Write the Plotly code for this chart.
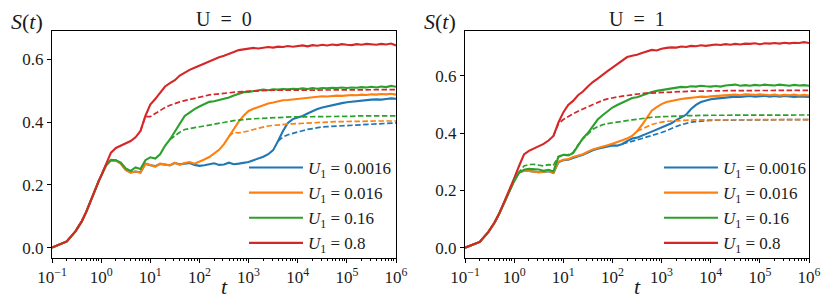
import plotly.graph_objects as go

# ---------------- data ----------------
# time grid: early linear samples, then log10(t) from 0.1 to 6.0
T_EARLY = [0.1, 0.2, 0.3, 0.4, 0.5, 0.6, 0.7, 0.8, 0.9, 1.0]
LOG_T = [0.1, 0.2, 0.3, 0.4, 0.5, 0.6, 0.7, 0.8, 0.9, 1.0,
         1.1, 1.2, 1.3, 1.4, 1.5, 1.6, 1.7, 1.8, 1.9, 2.0,
         2.1, 2.2, 2.3, 2.4, 2.5, 2.6, 2.7, 2.8, 2.9, 3.0,
         3.1, 3.2, 3.3, 3.4, 3.5, 3.6, 3.7, 3.8, 3.9, 4.0,
         4.1, 4.2, 4.3, 4.4, 4.5, 4.6, 4.7, 4.8, 4.9, 5.0,
         5.1, 5.2, 5.3, 5.4, 5.5, 5.6, 5.7, 5.8, 5.9, 6.0]

LABELS = ["0.0016", "0.016", "0.16", "0.8"]
COLORS = ["#1f77b4", "#ff7f0e", "#2ca02c", "#d62728"]
PANEL_TITLES = ["U &nbsp;= &nbsp;0", "U &nbsp;= &nbsp;1"]
X_TICK_EXP = [-1, 0, 1, 2, 3, 4, 5, 6]
Y_TICKS = [0.0, 0.2, 0.4, 0.6]

EARLY_L = [0.000, 0.020, 0.052, 0.083, 0.115, 0.147, 0.174, 0.195, 0.214, 0.229]
EARLY_R = [0.000, 0.020, 0.055, 0.088, 0.120, 0.151, 0.176, 0.197, 0.216, 0.233]
EARLY_R_RED = [0.000, 0.020, 0.055, 0.088, 0.120, 0.151, 0.176, 0.198, 0.219, 0.242]

# ---- U = 0 (left) : solid ----
L_BLUE = [0.263, 0.279, 0.278, 0.268, 0.248, 0.240, 0.243, 0.240, 0.268, 0.263,
          0.260, 0.267, 0.265, 0.263, 0.270, 0.266, 0.268, 0.270, 0.264, 0.261,
          0.263, 0.267, 0.269, 0.264, 0.265, 0.271, 0.266, 0.268, 0.270, 0.273,
          0.279, 0.284, 0.290, 0.298, 0.311, 0.340, 0.372, 0.398, 0.410, 0.415,
          0.420, 0.428, 0.436, 0.442, 0.447, 0.451, 0.454, 0.458, 0.461, 0.464,
          0.466, 0.468, 0.470, 0.471, 0.472, 0.473, 0.472, 0.474, 0.476, 0.475]
L_ORANGE = [0.263, 0.279, 0.278, 0.268, 0.248, 0.239, 0.243, 0.239, 0.268, 0.264,
            0.258, 0.268, 0.264, 0.262, 0.271, 0.264, 0.270, 0.273, 0.268, 0.274,
            0.281, 0.289, 0.300, 0.312, 0.330, 0.355, 0.380, 0.402, 0.421, 0.436,
            0.443, 0.449, 0.455, 0.460, 0.463, 0.467, 0.470, 0.471, 0.473, 0.474,
            0.477, 0.479, 0.480, 0.481, 0.483, 0.482, 0.484, 0.485, 0.484, 0.486,
            0.487, 0.486, 0.488, 0.487, 0.489, 0.488, 0.490, 0.489, 0.491, 0.488]
L_GREEN = [0.263, 0.280, 0.279, 0.271, 0.253, 0.245, 0.256, 0.251, 0.279, 0.288,
           0.284, 0.298, 0.325, 0.345, 0.370, 0.392, 0.420, 0.431, 0.442, 0.450,
           0.458, 0.465, 0.467, 0.471, 0.474, 0.479, 0.485, 0.491, 0.496, 0.497,
           0.500, 0.501, 0.504, 0.502, 0.505, 0.504, 0.506, 0.505, 0.507, 0.506,
           0.508, 0.506, 0.509, 0.507, 0.509, 0.508, 0.510, 0.509, 0.511, 0.509,
           0.511, 0.510, 0.512, 0.511, 0.513, 0.511, 0.514, 0.512, 0.516, 0.513]
L_RED = [0.265, 0.303, 0.318, 0.326, 0.333, 0.340, 0.352, 0.372, 0.420, 0.456,
         0.474, 0.493, 0.514, 0.525, 0.534, 0.549, 0.559, 0.567, 0.574, 0.581,
         0.586, 0.594, 0.601, 0.607, 0.612, 0.619, 0.624, 0.630, 0.632, 0.634,
         0.637, 0.635, 0.638, 0.640, 0.638, 0.641, 0.640, 0.643, 0.641, 0.643,
         0.645, 0.642, 0.646, 0.644, 0.647, 0.645, 0.648, 0.646, 0.649, 0.647,
         0.646, 0.649, 0.647, 0.650, 0.648, 0.647, 0.650, 0.648, 0.651, 0.645]
# ---- U = 0 (left) : dashed ----
N = None
L_BLUE_D = [N, N, N, N, N, N, N, N, N, N,
            N, N, N, N, N, N, N, N, N, N,
            N, N, N, N, N, N, N, N, N, N,
            N, N, N, N, N, 0.340, 0.353, 0.360, 0.365, 0.369,
            0.373, 0.377, 0.380, 0.383, 0.385, 0.386, 0.387, 0.388, 0.389, 0.390,
            0.391, 0.392, 0.393, 0.394, 0.395, 0.396, 0.396, 0.397, 0.397, 0.398]
L_ORANGE_D = [N, N, N, N, N, N, N, N, N, N,
              N, N, N, N, N, N, N, N, N, N,
              N, N, N, N, N, 0.355, 0.368, 0.366, 0.368, 0.372,
              0.377, 0.381, 0.385, 0.388, 0.390, 0.392, 0.393, 0.394, 0.395, 0.396,
              0.397, 0.398, 0.399, 0.400, 0.401, 0.401, 0.402, 0.402, 0.402, 0.403,
              0.403, 0.403, 0.403, 0.404, 0.404, 0.404, 0.404, 0.404, 0.404, 0.404]
L_GREEN_D = [N, N, N, N, N, N, N, N, N, N,
             N, N, N, 0.345, 0.357, 0.368, 0.377, 0.380, 0.382, 0.385,
             0.388, 0.391, 0.395, 0.398, 0.400, 0.403, 0.405, 0.407, 0.409, 0.410,
             0.411, 0.412, 0.413, 0.414, 0.415, 0.415, 0.416, 0.416, 0.417, 0.417,
             0.417, 0.418, 0.418, 0.418, 0.418, 0.419, 0.419, 0.419, 0.419, 0.419,
             0.419, 0.420, 0.420, 0.420, 0.420, 0.420, 0.420, 0.420, 0.420, 0.420]
L_RED_D = [N, N, N, N, N, N, N, 0.372, 0.418, 0.418,
           0.428, 0.438, 0.447, 0.454, 0.460, 0.465, 0.469, 0.473, 0.477, 0.481,
           0.484, 0.487, 0.489, 0.491, 0.493, 0.495, 0.496, 0.497, 0.498, 0.499,
           0.500, 0.500, 0.501, 0.501, 0.502, 0.502, 0.502, 0.503, 0.503, 0.503,
           0.503, 0.503, 0.504, 0.504, 0.504, 0.504, 0.504, 0.504, 0.504, 0.504,
           0.504, 0.504, 0.504, 0.504, 0.504, 0.504, 0.504, 0.504, 0.504, 0.504]

# ---- U = 1 (right) : solid ----
R_BLUE = [0.262, 0.268, 0.268, 0.266, 0.263, 0.264, 0.267, 0.261, 0.298, 0.305,
          0.307, 0.313, 0.318, 0.324, 0.332, 0.340, 0.345, 0.349, 0.352, 0.357,
          0.356, 0.362, 0.372, 0.381, 0.384, 0.390, 0.398, 0.405, 0.412, 0.420,
          0.427, 0.434, 0.445, 0.455, 0.464, 0.484, 0.498, 0.508, 0.514, 0.518,
          0.520, 0.522, 0.524, 0.525, 0.527, 0.526, 0.527, 0.529, 0.527, 0.528,
          0.530, 0.527, 0.529, 0.527, 0.529, 0.528, 0.526, 0.528, 0.527, 0.526]
R_ORANGE = [0.262, 0.268, 0.268, 0.266, 0.263, 0.265, 0.268, 0.261, 0.300, 0.307,
            0.309, 0.316, 0.320, 0.326, 0.335, 0.343, 0.348, 0.352, 0.357, 0.363,
            0.369, 0.374, 0.381, 0.390, 0.406, 0.428, 0.452, 0.478, 0.490, 0.501,
            0.508, 0.512, 0.516, 0.519, 0.521, 0.524, 0.525, 0.527, 0.526, 0.528,
            0.529, 0.531, 0.530, 0.533, 0.534, 0.532, 0.535, 0.534, 0.533, 0.535,
            0.533, 0.532, 0.534, 0.531, 0.533, 0.532, 0.534, 0.531, 0.533, 0.531]
R_GREEN = [0.262, 0.272, 0.275, 0.274, 0.273, 0.268, 0.272, 0.266, 0.316, 0.324,
           0.322, 0.330, 0.358, 0.382, 0.400, 0.425, 0.447, 0.462, 0.476, 0.489,
           0.498, 0.506, 0.512, 0.522, 0.525, 0.531, 0.538, 0.543, 0.547, 0.550,
           0.554, 0.556, 0.559, 0.561, 0.560, 0.563, 0.562, 0.565, 0.563, 0.562,
           0.564, 0.562, 0.566, 0.568, 0.569, 0.565, 0.567, 0.565, 0.568, 0.566,
           0.569, 0.567, 0.566, 0.569, 0.567, 0.565, 0.568, 0.566, 0.567, 0.565]
R_RED = [0.285, 0.325, 0.338, 0.346, 0.354, 0.362, 0.374, 0.390, 0.436, 0.472,
         0.498, 0.512, 0.532, 0.545, 0.562, 0.578, 0.590, 0.604, 0.616, 0.628,
         0.640, 0.655, 0.665, 0.670, 0.673, 0.679, 0.685, 0.690, 0.688, 0.694,
         0.697, 0.699, 0.698, 0.702, 0.700, 0.704, 0.703, 0.706, 0.704, 0.707,
         0.709, 0.707, 0.710, 0.708, 0.711, 0.709, 0.712, 0.711, 0.713, 0.710,
         0.713, 0.712, 0.714, 0.712, 0.715, 0.713, 0.715, 0.714, 0.717, 0.714]
# ---- U = 1 (right) : dashed ----
R_BLUE_D = [N, N, N, N, N, N, N, N, N, N,
            N, N, N, N, N, N, N, N, N, N,
            N, 0.362, 0.366, 0.371, 0.376, 0.381, 0.386, 0.390, 0.396, 0.402,
            0.408, 0.416, 0.423, 0.429, 0.434, 0.438, 0.440, 0.442, 0.443, 0.444,
            0.445, 0.445, 0.446, 0.446, 0.446, 0.446, 0.447, 0.447, 0.447, 0.447,
            0.447, 0.447, 0.447, 0.447, 0.447, 0.447, 0.447, 0.447, 0.447, 0.447]
R_ORANGE_D = [N, N, N, N, N, N, N, N, N, N,
              N, N, N, N, N, N, N, N, N, N,
              N, N, N, N, 0.406, 0.415, 0.422, 0.430, 0.435, 0.438,
              0.441, 0.442, 0.444, 0.445, 0.445, 0.446, 0.446, 0.446, 0.446, 0.447,
              0.447, 0.447, 0.447, 0.447, 0.447, 0.447, 0.447, 0.447, 0.447, 0.447,
              0.447, 0.447, 0.447, 0.447, 0.447, 0.447, 0.447, 0.447, 0.447, 0.447]
R_GREEN_D = [0.264, 0.285, 0.290, 0.291, 0.289, 0.285, 0.290, 0.288, 0.318, 0.325,
             0.324, 0.332, 0.358, 0.380, 0.396, 0.413, 0.422, 0.429, 0.433, 0.436,
             0.439, 0.441, 0.444, 0.446, 0.448, 0.451, 0.453, 0.455, 0.456, 0.457,
             0.458, 0.459, 0.460, 0.460, 0.461, 0.461, 0.461, 0.462, 0.462, 0.462,
             0.462, 0.462, 0.462, 0.463, 0.463, 0.463, 0.463, 0.463, 0.463, 0.463,
             0.463, 0.463, 0.463, 0.463, 0.463, 0.463, 0.463, 0.463, 0.463, 0.463]
R_RED_D = [N, N, N, N, N, N, N, 0.390, 0.432, 0.447,
           0.458, 0.467, 0.476, 0.484, 0.492, 0.500, 0.507, 0.514, 0.519, 0.523,
           0.526, 0.529, 0.531, 0.534, 0.536, 0.538, 0.539, 0.540, 0.541, 0.542,
           0.543, 0.544, 0.545, 0.545, 0.546, 0.546, 0.546, 0.547, 0.547, 0.547,
           0.547, 0.548, 0.548, 0.548, 0.548, 0.548, 0.548, 0.548, 0.549, 0.549,
           0.549, 0.549, 0.549, 0.549, 0.549, 0.549, 0.549, 0.549, 0.549, 0.549]

# ---------------- build ----------------
T_ALL = T_EARLY + [10 ** v for v in LOG_T]

panels = [
    dict(solid=[EARLY_L + L_BLUE, EARLY_L + L_ORANGE, EARLY_L + L_GREEN, EARLY_L + L_RED],
         dashed=[[N] * 10 + L_BLUE_D, [N] * 10 + L_ORANGE_D, [N] * 10 + L_GREEN_D, [N] * 10 + L_RED_D],
         yrange=[-0.033, 0.691]),
    dict(solid=[EARLY_R + R_BLUE, EARLY_R + R_ORANGE, EARLY_R + R_GREEN, EARLY_R_RED + R_RED],
         dashed=[[N] * 10 + R_BLUE_D, [N] * 10 + R_ORANGE_D, [N] * 9 + [EARLY_R[9]] + R_GREEN_D, [N] * 10 + R_RED_D],
         yrange=[-0.036, 0.756]),
]

FONT = "Liberation Serif"
TXT = "#1a1a1a"
W, H = 830, 307
XDOM = [[52 / W, 396 / W], [465 / W, 809 / W]]
YDOM = [(H - 258) / H, (H - 31) / H]

fig = go.Figure()
for p, panel in enumerate(panels):
    xa = "x" if p == 0 else "x2"
    ya = "y" if p == 0 else "y2"
    leg = "legend" if p == 0 else "legend2"
    for i in range(4):
        fig.add_trace(go.Scatter(
            x=T_ALL, y=panel["solid"][i], mode="lines", xaxis=xa, yaxis=ya,
            line=dict(color=COLORS[i], width=2.1), legend=leg,
            name="<i>U</i><sub>1</sub> = " + LABELS[i], showlegend=True))
    for i in range(4):
        fig.add_trace(go.Scatter(
            x=T_ALL, y=panel["dashed"][i], mode="lines", xaxis=xa, yaxis=ya,
            line=dict(color=COLORS[i], width=1.7, dash="5.5px,2.5px"),
            connectgaps=False, showlegend=False, legend=leg))

xticktext = ["10<sup>%s</sup>" % (str(e).replace("-", "\u2212")) for e in X_TICK_EXP]
xtickvals = [10.0 ** e for e in X_TICK_EXP]
minor_vals = [m * 10.0 ** e for e in X_TICK_EXP[:-1] for m in range(2, 10)]

axis_common = dict(showline=True, linecolor="black", linewidth=1, mirror=True,
                   showgrid=False, zeroline=False, ticks="outside", ticklen=4,
                   tickwidth=1, tickcolor="black", automargin=False,
                   tickfont=dict(family=FONT, size=17, color=TXT))

layout = dict(width=W, height=H, margin=dict(l=0, r=0, t=0, b=0, autoexpand=False),
              plot_bgcolor="white", paper_bgcolor="white",
              font=dict(family=FONT, color=TXT))
for p in range(2):
    sx = "" if p == 0 else "2"
    layout["xaxis" + sx] = dict(axis_common, type="log", range=[-1, 6], domain=XDOM[p],
                                anchor="y" + sx, tickmode="array", tickvals=xtickvals,
                                ticktext=xticktext,
                                minor=dict(ticks="outside", ticklen=2, tickcolor="black",
                                           tickmode="array", tickvals=minor_vals, showgrid=False))
    layout["yaxis" + sx] = dict(axis_common, range=panels[p]["yrange"], domain=YDOM,
                                anchor="x" + sx, tickmode="array", tickvals=Y_TICKS,
                                ticktext=["%.1f" % v for v in Y_TICKS])
legend_common = dict(bgcolor="rgba(0,0,0,0)", borderwidth=0, xanchor="left", yanchor="top",
                     font=dict(family=FONT, size=17, color=TXT),
                     itemwidth=54, tracegroupgap=0)
layout["legend"] = dict(legend_common, x=244 / W, y=(H - 150) / H)
layout["legend2"] = dict(legend_common, x=659 / W, y=(H - 150) / H)
fig.update_layout(**layout)

annots = []
for p in range(2):
    xc = (XDOM[p][0] + XDOM[p][1]) / 2
    annots.append(dict(text=PANEL_TITLES[p], x=xc, y=(H - 19) / H, xref="paper", yref="paper",
                       showarrow=False, font=dict(family=FONT, size=20, color=TXT),
                       xanchor="center", yanchor="middle"))
    annots.append(dict(text="<i>S</i>(<i>t</i>)", x=[9, 422][p] / W, y=(H - 21) / H,
                       xref="paper", yref="paper", showarrow=False,
                       font=dict(family=FONT, size=22, color=TXT),
                       xanchor="left", yanchor="middle"))
    annots.append(dict(text="<i>t</i>", x=[224, 637][p] / W, y=(H - 286) / H,
                       xref="paper", yref="paper", showarrow=False,
                       font=dict(family=FONT, size=22, color=TXT),
                       xanchor="center", yanchor="middle"))
fig.update_layout(annotations=annots)

fig.write_html("out.html", config={"displayModeBar": False},
               post_script="document.body.style.margin='0';")
